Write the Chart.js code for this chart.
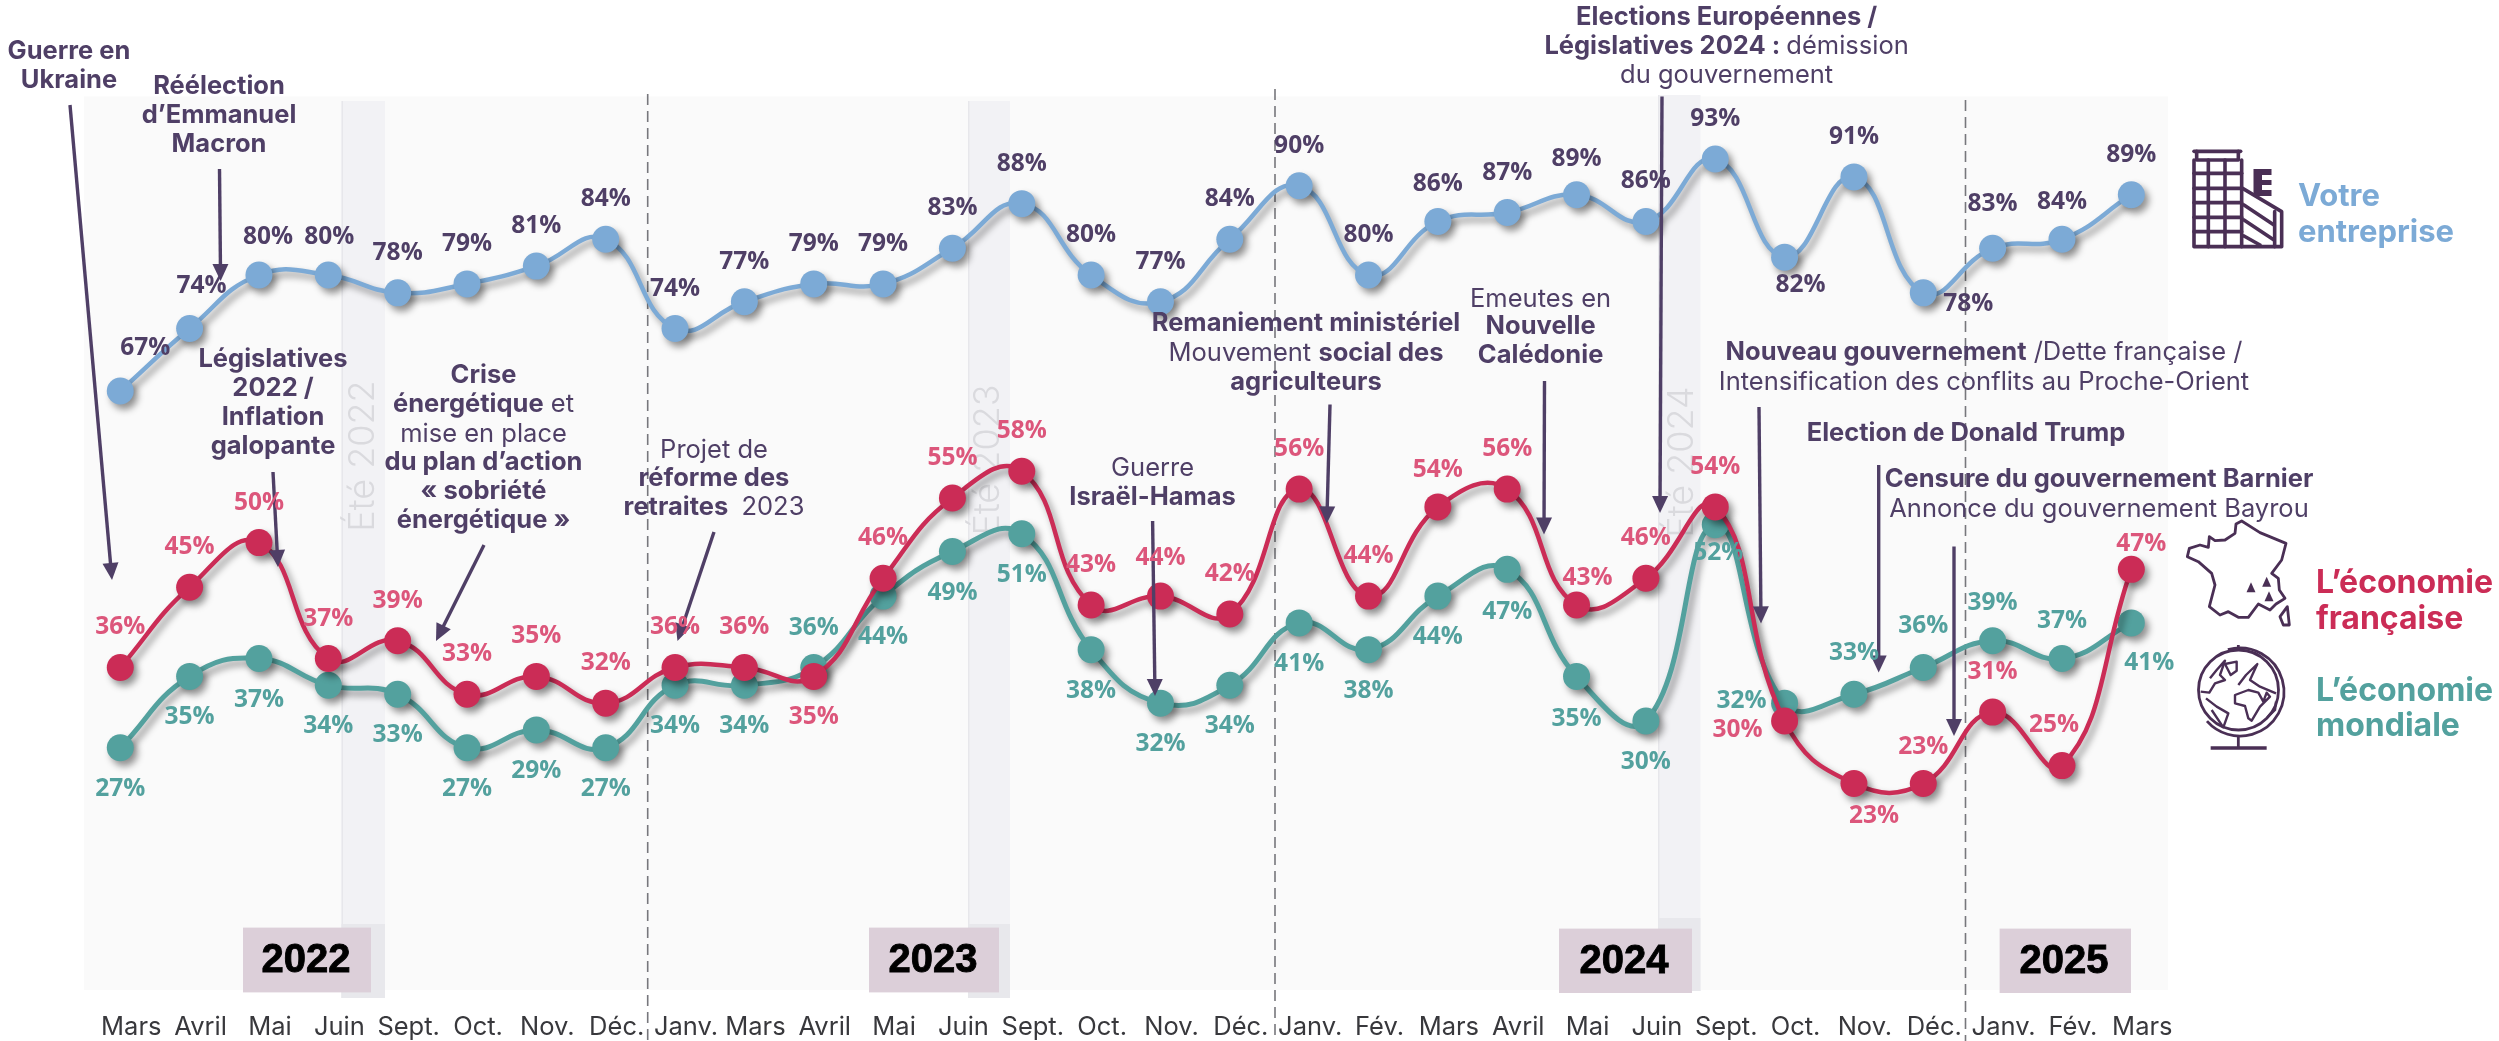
<!DOCTYPE html>
<html lang="fr"><head><meta charset="utf-8"><title>Baromètre</title>
<style>html,body{margin:0;padding:0;background:#fff;overflow:hidden}canvas{display:block}</style>
<script src="https://cdn.jsdelivr.net/npm/chart.js@4"></script></head>
<body><canvas id="c" width="2499" height="1041"></canvas>
<script>
const categories=["Mars","Avril","Mai","Juin","Sept.","Oct.","Nov.","Déc.","Janv.","Mars","Avril","Mai","Juin","Sept.","Oct.","Nov.","Déc.","Janv.","Fév.","Mars","Avril","Mai","Juin","Sept.","Oct.","Nov.","Déc.","Janv.","Fév.","Mars"];
const entreprise=[67,74,80,80,78,79,81,84,74,77,79,79,83,88,80,77,84,90,80,86,87,89,86,93,82,91,78,83,84,89];
const economieFrancaise=[36,45,50,37,39,33,35,32,36,36,35,46,55,58,43,44,42,56,44,54,56,43,46,54,30,23,23,31,25,47];
const economieMondiale=[27,35,37,34,33,27,29,27,34,34,36,44,49,51,38,32,34,41,38,44,47,35,30,52,32,33,36,39,37,41];

const PURPLE='#4f3f66',BLUE='#7caad6',RED='#cb2c56',TEAL='#53a19e',LRED='#dc567b';
const SANS='Inter, "Noto Sans", sans-serif';
const BOLD='700 25.5px '+SANS, REG='400 25.5px '+SANS;

const labelCfg=[
 {color:PURPLE,def:[0,-40],ex:{0:[25,-43],1:[12,-43],2:[9,-38],3:[1,-38],19:[0,-37],21:[0,-36],24:[16,28],26:[45,11],27:[0,-44],28:[0,-37]}},
 {color:LRED,def:[0,-40],ex:{10:[0,41],15:[0,-38],19:[0,-37],21:[11,-27],24:[-47,9],25:[20,33],26:[0,-36],28:[-8,-41],29:[10,-25]}},
 {color:TEAL,def:[0,41],ex:{10:[0,-39],20:[0,43],21:[0,43],23:[3,28],24:[-43,-2],25:[0,-41],26:[0,-41],27:[0,-38],28:[0,-38],29:[18,40]}}
];
const B=1,R=0;
const notes=[
 {x:69,lines:[[51,[["Guerre en",B]]],[80,[["Ukraine",B]]]]},
 {x:219,lines:[[86,[["Réélection",B]]],[115,[["d’Emmanuel",B]]],[144,[["Macron",B]]]]},
 {x:273,lines:[[359,[["Législatives",B]]],[388,[["2022 /",B]]],[417,[["Inflation",B]]],[446,[["galopante",B]]]]},
 {x:483.5,lines:[[375,[["Crise",B]]],[404,[["énergétique",B],[" et",R]]],[434,[["mise en place",R]]],[462,[["du plan d’action",B]]],[491,[["« sobriété",B]]],[520,[["énergétique »",B]]]]},
 {x:714,lines:[[450,[["Projet de",R]]],[478,[["réforme des",B]]],[507,[["retraites ",B],[" 2023",R]]]]},
 {x:1152.6,lines:[[468,[["Guerre",R]]],[497,[["Israël-Hamas",B]]]]},
 {x:1306,lines:[[323,[["Remaniement ministériel",B]]],[353,[["Mouvement ",R],["social des",B]]],[382,[["agriculteurs",B]]]]},
 {x:1540.6,lines:[[299,[["Emeutes en",R]]],[326.5,[["Nouvelle",B]]],[355,[["Calédonie",B]]]]},
 {x:1726.6,lines:[[17,[["Elections Européennes /",B]]],[46,[["Législatives 2024 : ",B],["démission",R]]],[75,[["du gouvernement",R]]]]},
 {x:1984,lines:[[352,[["Nouveau gouvernement",B],[" /Dette française /",R]]],[382,[["Intensification des conflits au Proche-Orient",R]]]]},
 {x:1966,lines:[[433,[["Election de Donald Trump",B]]]]},
 {x:2099,lines:[[479,[["Censure du gouvernement Barnier",B]]],[509,[["Annonce du gouvernement Bayrou",R]]]]}
];
const arrows=[[70,105,112,580],[219.5,169,220.6,281],[273,472,278,567],[484,545,436,641],[714,532,677.5,641],[1152.6,521,1155,696],[1330,404.5,1326.8,523.4],[1544.5,381,1544,534.5],[1662,96.5,1660,513],[1759,407,1761,623.4],[1878.7,465,1878.7,672.4],[1954,546.5,1954,736]];
const bands=[{x0:341.5,x1:385,y0:101,y1:998,dark:924,label:"Été 2022",cx:363,cy:456},{x0:968,x1:1010,y0:101,y1:998,dark:924,label:"Été 2023",cx:988,cy:460},{x0:1658,x1:1700.5,y0:95,y1:991,dark:918,label:"Été 2024",cx:1682,cy:462}];
const years=[{t:"2022",x0:243,x1:371,y0:927.6,y1:992.4,cx:306},{t:"2023",x0:869,x1:999,y0:927.6,y1:992.4,cx:933},{t:"2024",x0:1559,x1:1692,y0:928.6,y1:993,cx:1624},{t:"2025",x0:1999.6,x1:2131,y0:928.6,y1:993,cx:2064}];
const dashes=[[647.7,94],[1275,89],[1965.5,100]];
const legendText=[
 {x:2298,color:BLUE,size:31,lines:[[197,"Votre"],[233,"entreprise"]]},
 {x:2316,color:RED,size:32,lines:[[583,"L’économie"],[619,"française"]]},
 {x:2316,color:TEAL,size:32,lines:[[691,"L’économie"],[726,"mondiale"]]}
];
function drawRich(ctx,n){
 ctx.textBaseline='middle';ctx.textAlign='left';ctx.fillStyle=PURPLE;
 n.lines.forEach(([y,segs])=>{
  let w=0;segs.forEach(([t,b])=>{ctx.font=b?BOLD:REG;w+=ctx.measureText(t).width;});
  let x=n.x-w/2;
  segs.forEach(([t,b])=>{ctx.font=b?BOLD:REG;ctx.fillText(t,x,y);x+=ctx.measureText(t).width;});
 });
}
function drawArrow(ctx,[x0,y0,x1,y1]){
 const a=Math.atan2(y1-y0,x1-x0),L=17,H=8;
 ctx.strokeStyle=PURPLE;ctx.fillStyle=PURPLE;ctx.lineWidth=3.4;
 ctx.beginPath();ctx.moveTo(x0,y0);ctx.lineTo(x1-L*Math.cos(a)*.9,y1-L*Math.sin(a)*.9);ctx.stroke();
 ctx.beginPath();ctx.moveTo(x1,y1);
 ctx.lineTo(x1-L*Math.cos(a)+H*Math.sin(a),y1-L*Math.sin(a)-H*Math.cos(a));
 ctx.lineTo(x1-L*Math.cos(a)-H*Math.sin(a),y1-L*Math.sin(a)+H*Math.cos(a));
 ctx.closePath();ctx.fill();
}
function poly(ctx,pts,ox,oy,close){
 ctx.beginPath();
 pts.forEach((p,i)=>{const x=ox+p[0]/3,y=oy+p[1]/3;i?ctx.lineTo(x,y):ctx.moveTo(x,y);});
 if(close)ctx.closePath();ctx.stroke();
}
function icons(ctx){
 const ICON='#4a2f55',bx=2170,by=130,fx=2170,fy=510;
 ctx.save();ctx.strokeStyle=ICON;ctx.fillStyle=ICON;ctx.lineJoin='round';ctx.lineCap='round';
 ctx.lineWidth=3.6;
 poly(ctx,[[72,64],[212,64]],bx,by);
 poly(ctx,[[80,64],[80,90],[205,90],[205,64]],bx,by);
 poly(ctx,[[72,90],[72,350],[335,350],[335,245],[218,175]],bx,by);
 poly(ctx,[[215,90],[215,350]],bx,by);
 [115,165].forEach(x=>poly(ctx,[[x,90],[x,350]],bx,by));
 [130,175,218,262,305].forEach(y=>poly(ctx,[[72,y],[215,y]],bx,by));
 poly(ctx,[[222,225],[312,285]],bx,by);poly(ctx,[[222,270],[312,330]],bx,by);poly(ctx,[[222,318],[270,345]],bx,by);
 poly(ctx,[[314,245],[314,350]],bx,by);
 ctx.fillRect(2253.5,169,18,27);
 ctx.fillStyle='#fff';ctx.fillRect(2262,175,10,5);ctx.fillRect(2262,185,10,5);ctx.fillStyle=ICON;
 ctx.lineWidth=2.8;ctx.lineCap='butt';
 poly(ctx,[[215,33],[270,68],[348,100],[335,150],[305,190],[325,205],[328,240],[345,265],[318,282],[300,300],[265,282],[235,322],[205,322],[175,305],[150,315],[118,290],[135,225],[125,190],[85,155],[52,140],[58,115],[90,105],[115,112],[118,80],[135,92],[165,90],[195,70],[198,42]],fx,fy,true);
 poly(ctx,[[352,290],[358,345],[340,345],[330,320]],fx,fy,true);
 [[243,235],[290,218],[297,262]].forEach(p=>{const x=fx+p[0]/3,y=fy+p[1]/3;ctx.beginPath();ctx.moveTo(x,y-6);ctx.lineTo(x+4.5,y+4);ctx.lineTo(x-4.5,y+4);ctx.closePath();ctx.fill();});
 ctx.lineWidth=2.8;ctx.beginPath();ctx.arc(2238.5,690,40,0,Math.PI*2);ctx.stroke();
 ctx.beginPath();ctx.arc(2240,692,44,-1.85,2.42);ctx.stroke();
 poly(ctx,[[205,405],[205,420]],fx,fy);
 poly(ctx,[[205,680],[205,712]],fx,fy);
 ctx.lineWidth=3.4;poly(ctx,[[122,714],[290,714]],fx,fy);
 ctx.lineWidth=2.4;
 poly(ctx,[[120,505],[140,480],[165,452],[150,495],[165,510],[135,520],[118,548],[92,545]],fx,fy);
 poly(ctx,[[165,462],[200,455],[200,482],[182,495]],fx,fy,true);
 poly(ctx,[[108,565],[140,590],[175,610],[160,652],[125,600]],fx,fy);
 poly(ctx,[[195,555],[235,540],[265,548],[280,575],[290,548],[300,560],[270,590],[245,632],[235,625],[225,588],[195,580]],fx,fy,true);
 poly(ctx,[[205,525],[228,495],[262,462],[240,510],[270,530],[318,550]],fx,fy);
 poly(ctx,[[318,575],[315,600],[292,622]],fx,fy);
 ctx.restore();
}
const decor={id:'decor',
 beforeDatasetsDraw(ch){
  const c=ch.ctx;c.save();
  c.fillStyle='#fafafa';c.fillRect(84,96.5,2084,893.5);
  bands.forEach(b=>{
   c.fillStyle='#f2f2f5';c.fillRect(b.x0,b.y0,b.x1-b.x0,b.y1-b.y0);
   c.fillStyle='#e8e8ec';c.fillRect(b.x0,b.dark,b.x1-b.x0,b.y1-b.dark);
   c.fillStyle='#e7e7eb';c.fillRect(b.x0,b.y0,1.5,b.y1-b.y0);
   c.save();c.translate(b.cx,b.cy);c.rotate(-Math.PI/2);c.textAlign='center';c.textBaseline='middle';
   c.font='300 36px '+SANS;c.fillStyle='#dadade';c.fillText(b.label,0,0);c.restore();
  });
  years.forEach(y=>{
   c.fillStyle='#dccfd9';c.fillRect(y.x0,y.y0,y.x1-y.x0,y.y1-y.y0);
   c.fillStyle='#000';c.strokeStyle='#000';c.lineWidth=.9;c.font='bold 40px "Liberation Sans",Arial,sans-serif';c.textAlign='center';c.textBaseline='middle';
   c.fillText(y.t,y.cx,(y.y0+y.y1)/2+1);c.strokeText(y.t,y.cx,(y.y0+y.y1)/2+1);
  });
  c.strokeStyle='#77777c';c.lineWidth=1.6;c.setLineDash([11,6]);
  dashes.forEach(([x,y])=>{c.beginPath();c.moveTo(x,y);c.lineTo(x,1041);c.stroke();});
  c.restore();
 },
 beforeDatasetDraw(ch){const c=ch.ctx;c.save();c.shadowColor='rgba(0,0,0,.42)';c.shadowBlur=7;c.shadowOffsetX=4;c.shadowOffsetY=5;},
 afterDatasetDraw(ch){ch.ctx.restore();},
 afterDatasetsDraw(ch){
  const c=ch.ctx;c.save();
  arrows.forEach(a=>drawArrow(c,a));
  notes.forEach(n=>drawRich(c,n));
  c.textAlign='center';c.textBaseline='middle';c.font='700 24.5px "Open Sans",sans-serif';
  ch.data.datasets.forEach((ds,i)=>{
   const meta=ch.getDatasetMeta(i),cfg=labelCfg[i];c.fillStyle=cfg.color;
   meta.data.forEach((pt,j)=>{const o=cfg.ex[j]||cfg.def;c.fillText(ds.data[j]+'%',pt.x+o[0],pt.y+o[1]);});
  });
  c.textAlign='left';
  legendText.forEach(l=>{c.font='700 '+l.size+'px '+SANS;c.fillStyle=l.color;l.lines.forEach(([y,t])=>c.fillText(t,l.x,y));});
  icons(c);
  c.restore();
 }
};
const mk=(label,data,color,order,w)=>({label,data,borderColor:color,backgroundColor:color,pointBackgroundColor:color,pointBorderColor:color,pointBorderWidth:0,pointRadius:13.5,pointHoverRadius:13.5,borderWidth:w,tension:.45,fill:false,order});
new Chart(document.getElementById('c'),{
 type:'line',
 data:{labels:categories,datasets:[mk('Votre entreprise',entreprise,BLUE,1,4.5),mk('L’économie française',economieFrancaise,RED,2,4.5),mk('L’économie mondiale',economieMondiale,TEAL,3,5)]},
 plugins:[decor],
 options:{responsive:false,animation:false,devicePixelRatio:1,
  layout:{padding:{left:85.6,right:333,top:96.6,bottom:0}},
  plugins:{legend:{display:false},title:{display:false},tooltip:{enabled:false}},
  scales:{
   x:{offset:true,grid:{display:false,drawTicks:false},border:{display:false},
    afterFit(s){s.height=52.4;},
    ticks:{autoSkip:false,maxRotation:0,minRotation:0,padding:23,labelOffset:11,color:'#38383c',font:{family:'Inter',size:25.5,weight:'400'}}},
   y:{display:false,min:0,max:100}
  }
 }
});
</script></body></html>
